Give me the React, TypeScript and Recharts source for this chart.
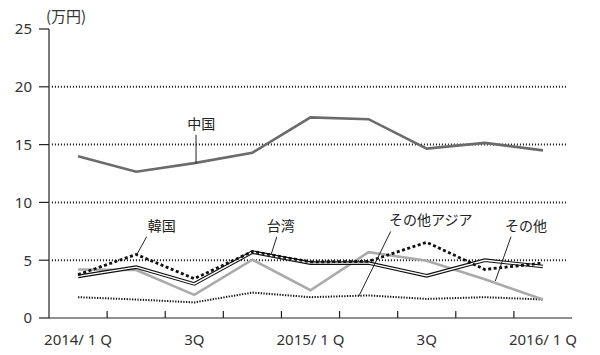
import {
  LineChart,
  Line,
  XAxis,
  YAxis,
  ReferenceLine,
  ReferenceDot,
} from 'recharts';

const quarters = ['2014/1Q', '2Q', '3Q', '4Q', '2015/1Q', '2Q', '3Q', '4Q', '2016/1Q'];
const tickLabels: Record<number, string> = {
  0: '2014/ 1 Q',
  2: '3Q',
  4: '2015/ 1 Q',
  6: '3Q',
  8: '2016/ 1 Q',
};

const china = [14.0, 12.65, 13.4, 14.3, 17.35, 17.2, 14.65, 15.15, 14.5];
const korea = [3.75, 5.5, 3.4, 5.75, 4.85, 4.9, 6.55, 4.2, 4.75];
const taiwan = [3.6, 4.4, 2.95, 5.7, 4.75, 4.75, 3.65, 5.0, 4.45];
const otherAsia = [1.8, 1.6, 1.35, 2.2, 1.8, 1.95, 1.65, 1.8, 1.6];
const other = [4.2, 4.15, 2.0, 5.05, 2.4, 5.7, 4.95, 3.35, 1.6];

const yTicks = [0, 5, 10, 15, 20, 25];
const gridValues = [5, 10, 15, 20];
const xTicks = [0, 0.5, 1, 1.5, 2, 2.5, 3, 3.5, 4, 4.5, 5, 5.5, 6, 6.5, 7, 7.5, 8];

// annotation labels and their leader lines (data coordinates)
const notes = [
  { text: '中国', x: 2.12, y: 16.75, from: { x: 2.03, y: 15.85 }, to: { x: 2.03, y: 13.35 } },
  { text: '韓国', x: 1.44, y: 7.98, from: { x: 1.18, y: 7.03 }, to: { x: 1.01, y: 5.48 } },
  { text: '台湾', x: 3.49, y: 7.98, from: { x: 3.42, y: 7.03 }, to: { x: 3.32, y: 5.45 } },
  { text: 'その他アジア', x: 6.07, y: 8.5, from: { x: 5.38, y: 7.49 }, to: { x: 4.83, y: 1.87 } },
  { text: 'その他', x: 7.71, y: 7.98, from: { x: 7.45, y: 7.03 }, to: { x: 7.18, y: 3.2 } },
];

const data = quarters.map((q, i) => ({
  x: i,
  quarter: q,
  china: china[i],
  korea: korea[i],
  taiwan: taiwan[i],
  otherAsia: otherAsia[i],
  other: other[i],
}));

const numFont = '"Noto Sans", sans-serif';
const jpFont = '"Noto Sans CJK JP", sans-serif';

function QuarterTick(props: any) {
  const { x, y, payload } = props;
  const v = payload.value as number;
  if (v % 1 !== 0) {
    return <line x1={x} x2={x} y1={y} y2={y - 7} stroke="#222" strokeWidth={1.2} />;
  }
  const label = tickLabels[v];
  if (!label) return <g />;
  return (
    <text x={x} y={y + 27} textAnchor="middle" fontSize={15} fill="#333" fontFamily={numFont}>
      {label}
    </text>
  );
}

export default function App() {
  return (
    <div style={{ position: 'absolute', left: 0, top: 0, width: 600, height: 355, background: '#fff' }}>
      <div
        style={{
          position: 'absolute',
          left: 46,
          top: 6,
          fontSize: 15,
          fontFamily: jpFont,
          color: '#333',
          lineHeight: '20px',
        }}
      >
        (万円)
      </div>
      <LineChart width={600} height={355} data={data} margin={{ top: 29, right: 28, bottom: 7, left: 0 }}>
        <XAxis
          dataKey="x"
          type="number"
          domain={[-0.5, 8.5]}
          ticks={xTicks}
          interval={0}
          tickLine={false}
          tickSize={0}
          tickMargin={0}
          height={30}
          axisLine={{ stroke: '#222', strokeWidth: 1.2 }}
          tick={<QuarterTick />}
        />
        <YAxis
          domain={[0, 25]}
          ticks={yTicks}
          width={49}
          tickSize={10}
          tickMargin={7}
          axisLine={{ stroke: '#222', strokeWidth: 1.2 }}
          tickLine={{ stroke: '#222', strokeWidth: 1.2 }}
          tick={{ fontSize: 15, fill: '#333', fontFamily: numFont }}
        />
        {gridValues.map((g) => (
          <ReferenceLine
            key={g}
            segment={[{ x: -0.45, y: g }, { x: 8.43, y: g }]}
            stroke="#111"
            strokeWidth={2}
            strokeDasharray="1 2"
          />
        ))}
        <Line dataKey="otherAsia" stroke="#111" strokeWidth={2} strokeDasharray="1.3 1.4" dot={false} activeDot={false} isAnimationActive={false} />
        <Line dataKey="other" stroke="#aaaaaa" strokeWidth={2.6} dot={false} activeDot={false} isAnimationActive={false} />
        <Line dataKey="china" stroke="#6b6b6b" strokeWidth={2.6} dot={false} activeDot={false} isAnimationActive={false} />
        <Line dataKey="taiwan" stroke="#111" strokeWidth={3.6} dot={false} activeDot={false} isAnimationActive={false} />
        <Line dataKey="taiwan" stroke="#fff" strokeWidth={1.4} dot={false} activeDot={false} isAnimationActive={false} />
        <Line dataKey="korea" stroke="#111" strokeWidth={2.8} strokeDasharray="3 2.5" dot={false} activeDot={false} isAnimationActive={false} />
        {notes.map((n) => (
          <ReferenceLine key={n.text + 'l'} segment={[n.from, n.to]} stroke="#222" strokeWidth={1} />
        ))}
        {notes.map((n) => (
          <ReferenceDot
            key={n.text}
            x={n.x}
            y={n.y}
            r={1}
            fill="none"
            stroke="none"
            label={{ value: n.text, position: 'center', fontSize: 14, fill: '#222', fontFamily: jpFont }}
          />
        ))}
      </LineChart>
    </div>
  );
}
